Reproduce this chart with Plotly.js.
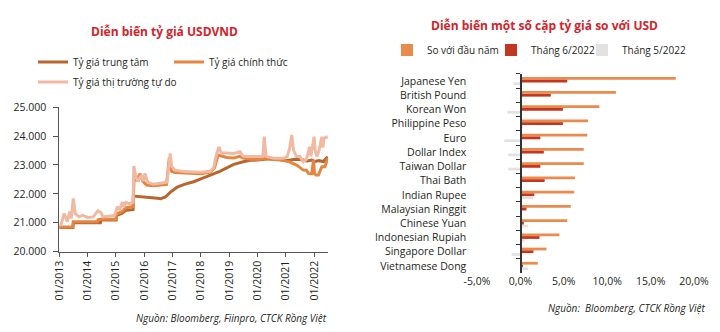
<!DOCTYPE html>
<html>
<head>
<meta charset="utf-8">
<script src="https://cdn.plot.ly/plotly-3.0.1.min.js"></script>
<style>
  html, body { margin: 0; padding: 0; background: #ffffff; }
  #chart { width: 720px; height: 332px; }
</style>
</head>
<body>
<div id="chart"></div>
<script>
// ---------- Left chart: USD/VND rates ----------
const centralDates = ['2013-01-01','2013-06-25','2013-07-01','2014-06-15','2014-06-20','2015-01-05','2015-01-10','2015-03-20','2015-05-10','2015-08-10','2015-08-15','2016-01-01','2016-04-01','2016-06-20','2016-08-01','2016-10-01','2016-12-01','2017-03-01','2017-06-01','2017-09-30','2018-01-01','2018-03-15','2018-06-01','2018-09-01','2018-12-01','2019-03-01','2019-06-30','2019-10-01','2020-01-01','2020-06-01','2020-10-01','2021-01-01','2021-05-01','2021-08-01','2021-10-01','2021-12-01','2022-01-15','2022-03-01','2022-05-01','2022-06-24'];
const centralValues = [20828,20828,21000,21000,21090,21090,21250,21320,21430,21450,21920,21900,21880,21850,21830,21890,22050,22230,22330,22420,22520,22590,22680,22780,22900,23020,23110,23160,23170,23220,23200,23150,23200,23180,23140,23170,23120,23150,23120,23290];

const officialDates = ['2013-01-01','2013-06-25','2013-07-01','2014-05-10','2014-05-15','2014-06-20','2015-01-05','2015-01-10','2015-03-20','2015-05-10','2015-08-10','2015-08-15','2015-08-25','2015-09-20','2015-11-10','2015-12-15','2016-02-01','2016-05-01','2016-08-01','2016-10-15','2016-11-20','2016-12-20','2017-02-01','2017-06-01','2017-10-01','2018-01-01','2018-05-01','2018-06-25','2018-08-10','2018-10-01','2018-12-01','2019-03-01','2019-05-15','2019-07-01','2019-10-01','2020-01-01','2020-03-20','2020-03-28','2020-04-20','2020-08-01','2020-12-01','2021-02-15','2021-05-20','2021-08-15','2021-09-25','2021-10-20','2021-11-30','2021-12-25','2022-01-05','2022-01-25','2022-02-25','2022-04-10','2022-05-20','2022-06-24'];
const officialValues = [20850,20850,21030,21030,21100,21120,21120,21300,21380,21520,21560,22480,22650,22450,22700,22430,22300,22280,22300,22330,23250,22780,22740,22720,22710,22700,22750,22900,23340,23300,23260,23240,23300,23240,23200,23190,23220,23350,23220,23190,23160,23110,22997,22823,22820,22707,22700,23170,22700,22650,22650,22940,22940,23230];

const freeDates = ['2013-01-01','2013-01-25','2013-03-05','2013-04-15','2013-05-15','2013-06-05','2013-06-30','2013-07-25','2013-09-10','2013-11-01','2014-01-01','2014-03-15','2014-05-15','2014-06-20','2014-07-20','2014-10-01','2014-12-15','2015-01-20','2015-02-20','2015-03-25','2015-04-15','2015-05-10','2015-06-20','2015-08-10','2015-08-20','2015-09-15','2015-10-15','2015-11-20','2015-12-20','2016-01-10','2016-02-15','2016-05-01','2016-08-01','2016-10-20','2016-12-01','2016-12-20','2017-02-01','2017-06-01','2017-10-01','2018-01-01','2018-05-01','2018-06-15','2018-07-15','2018-08-20','2018-09-20','2018-12-01','2019-03-01','2019-05-20','2019-07-01','2019-10-01','2020-01-01','2020-03-10','2020-03-28','2020-04-20','2020-08-01','2020-12-01','2021-01-20','2021-02-20','2021-03-18','2021-04-10','2021-05-20','2021-07-01','2021-08-15','2021-09-25','2021-11-01','2021-11-20','2021-12-31','2022-01-15','2022-02-05','2022-03-05','2022-04-10','2022-04-25','2022-05-05','2022-05-25','2022-06-24'];
const freeValues = [20900,20950,21320,21030,21380,21150,21840,21320,21200,21250,21180,21200,21410,21350,21200,21220,21250,21550,21450,21720,21550,21700,21660,21700,22960,22600,22420,22650,22450,22707,22400,22330,22360,22400,23400,22950,22820,22770,22760,22750,22780,22900,23300,23630,23420,23400,23400,23460,23300,23290,23290,23300,23980,23300,23230,23230,23300,23600,24040,23500,23290,23290,23110,23200,23630,23300,23980,23500,23290,23500,23980,23600,23900,23950,23980];

const leftSeriesNames = ['Tỷ giá trung tâm', 'Tỷ giá chính thức', 'Tỷ giá thị trường tự do'];

// ---------- Right chart: currency pairs vs USD (%) ----------
const categories = ['Japanese Yen','British Pound','Korean Won','Philippine Peso','Euro','Dollar Index','Taiwan Dollar','Thai Bath','Indian Rupee','Malaysian Ringgit','Chinese Yuan','Indonesian Rupiah','Singapore Dollar','Vietnamese Dong'];
const ytdChange = [17.9, 11.0, 9.1, 7.8, 7.7, 7.3, 7.3, 6.3, 6.2, 5.8, 5.4, 4.5, 3.0, 2.0];
const june2022 = [5.4, 3.5, 4.9, 4.9, 2.3, 2.7, 2.3, 2.8, 1.6, 0.7, 0.4, 2.2, 1.5, 0.3];
const may2022 = [-0.8, 0.0, -1.5, 0.3, -1.85, -1.4, -1.4, 0.0, 1.45, 0.2, 0.9, 0.5, -1.0, 0.9];
const rightSeriesNames = ['So với đầu năm', 'Tháng 6/2022', 'Tháng 5/2022'];
const rightTickVals = [-5, 0, 5, 10, 15, 20];
const rightTickText = ['-5,0%', '0,0%', '5,0%', '10,0%', '15,0%', '20,0%'];

const FONT = 'Open Sans, Noto Sans, sans-serif';
const TXT = '#231f20';
const W = 720, H = 332;
const px = v => v / W;
const py = v => (H - v) / H;

const traces = [
  { type: 'scatter', mode: 'lines', name: leftSeriesNames[0], x: centralDates, y: centralValues,
    xaxis: 'x', yaxis: 'y', line: { color: '#B8662F', width: 3 }, legend: 'legend' },
  { type: 'scatter', mode: 'lines', name: leftSeriesNames[1], x: officialDates, y: officialValues,
    xaxis: 'x', yaxis: 'y', line: { color: '#E5853F', width: 3 }, legend: 'legend2' },
  { type: 'scatter', mode: 'lines', name: leftSeriesNames[2], x: freeDates, y: freeValues,
    xaxis: 'x', yaxis: 'y', line: { color: '#F2B9A2', width: 3 }, legend: 'legend3' },
  { type: 'bar', orientation: 'h', name: rightSeriesNames[0], x: ytdChange, y: categories,
    xaxis: 'x2', yaxis: 'y2', marker: { color: '#EA8A4C' }, legend: 'legend4' },
  { type: 'bar', orientation: 'h', name: rightSeriesNames[1], x: june2022, y: categories,
    xaxis: 'x2', yaxis: 'y2', marker: { color: '#C3361F' }, legend: 'legend5' },
  { type: 'bar', orientation: 'h', name: rightSeriesNames[2], x: may2022, y: categories,
    xaxis: 'x2', yaxis: 'y2', marker: { color: '#E2E2E2' }, legend: 'legend6' }
];

function leg(x, y) {
  return { x: px(x), y: py(y), xanchor: 'left', yanchor: 'middle', orientation: 'h',
           bgcolor: 'rgba(0,0,0,0)', borderwidth: 0, font: { family: FONT, size: 10, color: TXT } };
}

const layout = {
  width: W, height: H,
  margin: { l: 0, r: 0, t: 0, b: 0, pad: 0 },
  paper_bgcolor: '#ffffff', plot_bgcolor: '#ffffff',
  separators: ',.',
  font: { family: FONT, size: 10, color: TXT },
  showlegend: true,
  barmode: 'group', bargap: 0.42, bargroupgap: 0,
  xaxis: {
    type: 'date', domain: [px(59.3), px(328.2)], range: ['2013-01-01', '2022-07-01'],
    anchor: 'y', showgrid: false, zeroline: false,
    showline: true, linecolor: '#555', linewidth: 1,
    ticks: 'outside', ticklen: 4, tickcolor: '#555',
    tick0: '2013-01-01', dtick: 'M12', tickformat: '%m/%Y', tickangle: -90,
    tickfont: { family: FONT, size: 10.5, color: TXT }
  },
  yaxis: {
    domain: [py(251.5), py(107.3)], range: [20000, 25000], dtick: 1000, tickformat: ',d',
    anchor: 'x', showgrid: false, zeroline: false,
    showline: true, linecolor: '#555', linewidth: 1,
    ticks: 'outside', ticklen: 5, tickcolor: '#555',
    ticklabelstandoff: 5,
    tickfont: { family: FONT, size: 10.5, color: TXT }
  },
  xaxis2: {
    domain: [px(477), px(694)], range: [-5, 20], anchor: 'y2',
    showgrid: false, zeroline: false, showline: false, ticks: '',
    tickvals: rightTickVals, ticktext: rightTickText,
    tickfont: { family: FONT, size: 10.5, color: TXT }
  },
  yaxis2: {
    type: 'category', categoryarray: categories, categoryorder: 'array',
    domain: [py(273.1), py(73.9)], range: [categories.length - 0.5, -0.5],
    anchor: 'free', position: px(520.4),
    showgrid: false, zeroline: false,
    showline: true, linecolor: '#333', linewidth: 1.5,
    ticks: 'outside', tickson: 'boundaries', ticklen: 4, tickcolor: '#333',
    ticklabelstandoff: 52,
    tickfont: { family: FONT, size: 10.5, color: TXT }
  },
  legend: leg(33, 62),
  legend2: leg(169, 62),
  legend3: leg(33, 82),
  legend4: leg(387, 50),
  legend5: leg(491, 50),
  legend6: leg(582, 50),
  annotations: [
    { text: '<b>Diễn biến tỷ giá USDVND</b>', x: px(164), y: py(32), xref: 'paper', yref: 'paper',
      xanchor: 'center', yanchor: 'middle', showarrow: false,
      font: { family: FONT, size: 12, color: '#D2232A' } },
    { text: '<b>Diễn biến một số cặp tỷ giá so với USD</b>', x: px(544), y: py(26), xref: 'paper', yref: 'paper',
      xanchor: 'center', yanchor: 'middle', showarrow: false,
      font: { family: FONT, size: 12, color: '#D2232A' } },
    { text: '<i>Nguồn: Bloomberg, Fiinpro, CTCK Rồng Việt</i>', x: px(329), y: py(318), xref: 'paper', yref: 'paper',
      xanchor: 'right', yanchor: 'middle', showarrow: false,
      font: { family: FONT, size: 10, color: TXT } },
    { text: '<i>Nguồn:\u00a0 Bloomberg, CTCK Rồng Việt</i>', x: px(707), y: py(308), xref: 'paper', yref: 'paper',
      xanchor: 'right', yanchor: 'middle', showarrow: false,
      font: { family: FONT, size: 10, color: TXT } }
  ]
};

Plotly.newPlot('chart', traces, layout, { staticPlot: true, displayModeBar: false, responsive: false });
</script>
</body>
</html>
